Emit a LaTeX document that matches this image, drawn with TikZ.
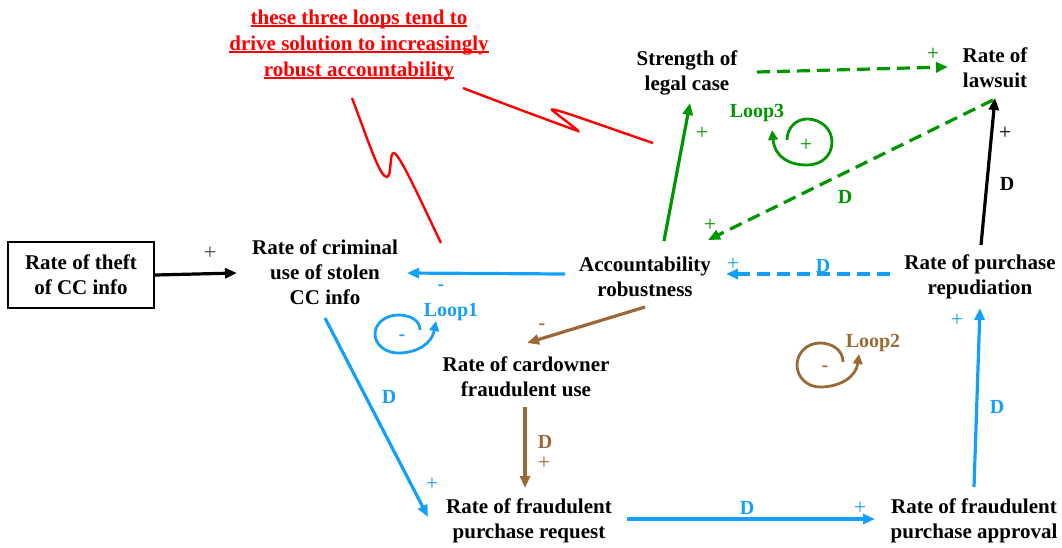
\documentclass[tikz,border=0pt]{standalone}
\usepackage{fontspec}
\setmainfont{Liberation Serif}
\usetikzlibrary{arrows.meta,calc}
\definecolor{cblue}{RGB}{20,160,250}
\definecolor{cgreen}{RGB}{0,150,0}
\definecolor{cbrown}{RGB}{155,105,55}
\newcommand\redul[1]{\setbox0=\hbox{#1}\rlap{\rule[-3pt]{\wd0}{1.8pt}}\box0}
\begin{document}
\begin{tikzpicture}[x=1pt,y=-1pt,
  var/.style={align=center,font=\fontsize{21}{25}\selectfont\bfseries,inner sep=0pt},
  lbl/.style={font=\fontsize{20}{20}\selectfont\bfseries,inner sep=0pt},
  pl/.style={font=\fontsize{22}{22}\selectfont,inner sep=0pt},
  link/.style={line width=3.2pt,-{Triangle[length=12pt,width=10pt]}},
  dlink/.style={link,dash pattern=on 13pt off 7pt},
  loopar/.style={line width=2.8pt,-{Triangle[length=10pt,width=9.5pt]}},
  zig/.style={red,line width=2.4pt},
]
\useasboundingbox (0,0) rectangle (1062,547);

% nodes
\node[var,draw,line width=2.2pt,minimum width=146pt,minimum height=66pt] (theft) at (81,275) {Rate of theft\\of CC info};
\node[var] (crim) at (325,272) {Rate of criminal\\use of stolen\\CC info};
\node[var] (acc) at (645,277) {Accountability\\robustness};
\node[var] (legal) at (687,72.5) {Strength of\\legal case};
\node[var] (lawsuit) at (995,68) {Rate of\\lawsuit};
\node[var] (repud) at (980,277) {Rate of purchase\\repudiation};
\node[var] (card) at (526,376.5) {Rate of cardowner\\fraudulent use};
\node[var] (request) at (529,521) {Rate of fraudulent\\purchase request};
\node[var] (approval) at (974,521) {Rate of fraudulent\\purchase approval};
\node[align=center,red,inner sep=0pt,font=\fontsize{21}{26}\selectfont\bfseries] (note) at (359,45)
  {\redul{these three loops tend to}\\\redul{drive solution to increasingly}\\\redul{robust accountability}};

% connectors
\draw[link,black] (theft.east) -- ([shift={(-88,1)}]crim.center);
\draw[link,cblue] ([shift={(-80,-3)}]acc.center) -- ([shift={(82,1)}]crim.center);
\draw[link,cgreen] ([shift={(19,-36)}]acc.center) -- ([shift={(3,30.5)}]legal.center);
\draw[dlink,cgreen] ([shift={(70,-0.5)}]legal.center) -- ([shift={(-47,-1)}]lawsuit.center);
\draw[dlink,cgreen] ([shift={(-2,32)}]lawsuit.center) -- ([shift={(63,-37)}]acc.center);
\draw[link,black] ([shift={(1,-32)}]repud.center) -- ([shift={(0,30)}]lawsuit.center);
\draw[dlink,cblue] ([shift={(-90,-3)}]repud.center) -- ([shift={(81,-3)}]acc.center);
\draw[link,cbrown] ([shift={(0,30)}]acc.center) -- ([shift={(1,-33.5)}]card.center);
\draw[link,cbrown] ([shift={(-1,30.5)}]card.center) -- ([shift={(-4,-33)}]request.center);
\draw[link,cblue] ([shift={(0,46)}]crim.center) -- ([shift={(-101,-4)}]request.center);
\draw[link,cblue] ([shift={(98,-2)}]request.center) -- ([shift={(-99,-2)}]approval.center);
\draw[link,cblue] ([shift={(0,-34)}]approval.center) -- ([shift={(0,31)}]repud.center);

% connector labels
\node[pl,black!75] at (210,253) {+};
\node[lbl,cblue] at (441,288) {-};
\node[pl,cgreen] at (702,133) {+};
\node[pl,cgreen] at (933,54) {+};
\node[pl,cgreen] at (710,225) {+};
\node[lbl,cgreen] at (845,197) {D};
\node[pl,black] at (1005,133) {+};
\node[lbl,black] at (1007,184) {D};
\node[pl,cblue] at (733,264) {+};
\node[lbl,cblue] at (823,266) {D};
\node[lbl,cbrown] at (542,327) {-};
\node[lbl,cbrown] at (545,442) {D};
\node[pl,cbrown] at (544,463) {+};
\node[lbl,cblue] at (389,397) {D};
\node[pl,cblue] at (432,484) {+};
\node[lbl,cblue] at (747,508) {D};
\node[pl,cblue] at (860,508) {+};
\node[pl,cblue] at (957,320) {+};
\node[lbl,cblue] at (997,407) {D};

% loops
\draw[loopar,cblue] (420,330) .. controls (420,320) and (410,315) .. (398,315)
  .. controls (385,315) and (375,324) .. (375,334)
  .. controls (375,345) and (386,353) .. (398,353)
  .. controls (418,353) and (432,343) .. (436,321);
\node[lbl,cblue] at (451,312) {Loop1};
\node[lbl,cblue] at (402,338) {-};

\draw[loopar,cbrown] (843,362) .. controls (843,350) and (832,343) .. (820,343)
  .. controls (807,343) and (797,353) .. (797,365)
  .. controls (797,378) and (808,387) .. (820,387)
  .. controls (840,387) and (856,377) .. (859,354);
\node[lbl,cbrown] at (873,343) {Loop2};
\node[lbl,cbrown] at (825,369) {-};

\draw[loopar,cgreen] (787,140) .. controls (787,128) and (796,119) .. (807,119)
  .. controls (821,119) and (832,129) .. (832,142)
  .. controls (832,156) and (821,165) .. (807,165)
  .. controls (790,165) and (775,158) .. (772,130);
\node[lbl,cgreen] at (757,113) {Loop3};
\node[pl,cgreen] at (806,145) {+};

% red annotation strokes
\draw[zig] (352,98) .. controls (368,140) and (380,178) .. (387,177)
  .. controls (392,176) and (389,152) .. (394,153)
  .. controls (400,154) and (425,210) .. (441,243);
\draw[zig] (463,88) .. controls (520,110) and (575,130) .. (578,131)
  .. controls (581,132) and (555,113) .. (552,110)
  .. controls (549,106) and (600,125) .. (653,143);
\end{tikzpicture}
\end{document}
